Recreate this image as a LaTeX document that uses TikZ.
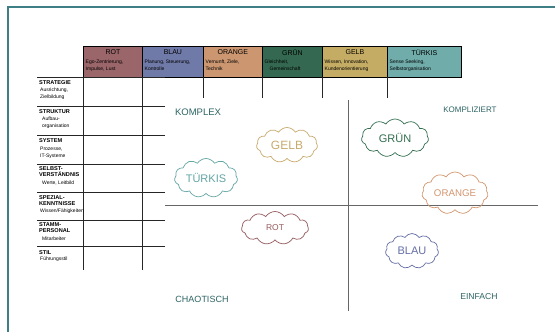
\documentclass[tikz,border=0pt]{standalone}
\usepackage{fontspec}
\setmainfont{Liberation Sans}
\usetikzlibrary{shapes.symbols}

\definecolor{frameC}{RGB}{62,127,134}
\definecolor{quadC}{RGB}{45,100,100}
\definecolor{fRot}{RGB}{155,102,106}
\definecolor{fBlau}{RGB}{112,122,168}
\definecolor{fOrange}{RGB}{203,150,112}
\definecolor{fGruen}{RGB}{52,104,80}
\definecolor{fGelb}{RGB}{197,172,100}
\definecolor{fTuerkis}{RGB}{112,172,170}
\definecolor{cRot}{RGB}{150,90,95}
\definecolor{cBlau}{RGB}{100,110,165}
\definecolor{cOrange}{RGB}{210,150,110}
\definecolor{cGruen}{RGB}{50,110,80}
\definecolor{cGelb}{RGB}{200,170,110}
\definecolor{cTuerkis}{RGB}{100,165,165}

\begin{document}
\begin{tikzpicture}[x=1pt,y=-1pt,
  hcell/.style={draw=black, line width=0.8pt, minimum height=31pt, inner sep=0pt, anchor=north west},
  htitle/.style={font=\fontsize{7}{8}\selectfont, anchor=north, inner sep=0pt},
  hsub/.style={font=\fontsize{5}{6.8}\selectfont, anchor=north west, align=left, inner sep=0pt},
  rtitle/.style={font=\fontsize{5.6}{6.6}\selectfont\bfseries, anchor=north west, align=left, inner sep=0pt},
  rsub/.style={font=\fontsize{5}{7}\selectfont, anchor=north west, align=left, inner sep=0pt},
  gridline/.style={draw=black!85, line width=0.7pt},
  axisline/.style={draw=black!60, line width=1pt},
  quad/.style={text=quadC, inner sep=0pt},
  wolke/.style={cloud, cloud puffs=11, cloud puff arc=115, cloud ignores aspect, line width=0.7pt, inner sep=0pt},
]
\useasboundingbox (0,0) rectangle (555,332);
\fill[white] (0,0) rectangle (555,332);

% frame
\draw[frameC, line width=2.2pt] (8,333) -- (8,7) -- (556,7);

% header cells
\foreach \n/\x/\w/\fc/\ttl/\sa/\sb in {
  rot/83/59/fRot/ROT/{Ego-Zentrierung,}/{Impulse, Lust},
  blau/142/61/fBlau/BLAU/{Planung, Steuerung,}/{Kontrolle},
  orange/203/59/fOrange/ORANGE/{Vernunft, Ziele,}/{Technik},
  gruen/262/60/fGruen/GRÜN/{Gleichheit,}/{\quad Gemeinschaft},
  gelb/322/65/fGelb/GELB/{Wissen, Innovation,}/{Kundenorientierung},
  tuerkis/387/74/fTuerkis/TÜRKIS/{Sense Seeking,}/{Selbstorganisation}}{
  \node[hcell, fill=\fc, minimum width=\w pt] (hd-\n) at (\x,46) {};
  \node[htitle] (ht-\n) at ([yshift=-3pt]hd-\n.north) {\ttl};
  \node[hsub] (hs-\n) at ([xshift=2.5pt,yshift=-14pt]hd-\n.north west) {\sa\\\sb};
}

% table grid
\draw[gridline] (37,77) -- (165,77);
\foreach \yy in {106,135,164,192,220,246}{
  \draw[gridline] (37,\yy) -- (165,\yy);
}
\draw[gridline] (83,77) -- (83,270);
\draw[gridline] (142,77) -- (142,270);
\foreach \xx in {203,262,322,387}{
  \draw[gridline] (\xx,77) -- (\xx,98);
}

% row labels
\node[rtitle] (rt1) at (39,80) {STRATEGIE};
\node[rsub]   (rs1) at (40,88) {Ausrichtung,\\Zielbildung};
\node[rtitle] (rt2) at (39,109) {STRUKTUR};
\node[rsub]   (rs2) at (42,117) {Aufbau-\\organisation};
\node[rtitle] (rt3) at (39,138) {SYSTEM};
\node[rsub]   (rs3) at (40,147) {Prozesse,\\IT-Systeme};
\node[rtitle] (rt4) at (39,166) {SELBST-\\VERSTÄNDNIS};
\node[rsub]   (rs4) at (42,181) {Werte, Leitbild};
\node[rtitle] (rt5) at (39,195) {SPEZIAL-\\KENNTNISSE};
\node[rsub]   (rs5) at (40,209) {Wissen/Fähigkeiten};
\node[rtitle] (rt6) at (39,222) {STAMM-\\PERSONAL};
\node[rsub]   (rs6) at (42,237) {Mitarbeiter};
\node[rtitle] (rt7) at (39,250) {STIL};
\node[rsub]   (rs7) at (40,257) {Führungsstil};

% matrix axes
\coordinate (hL) at (165,205);
\coordinate (hR) at (538,205);
\coordinate (vT) at (348,100);
\coordinate (vB) at (348,311);
\draw[axisline] (hL) -- (hR);
\draw[axisline] (vT) -- (vB);

% quadrant labels
\node[quad, font=\fontsize{9.5}{10}\selectfont] (komplex) at (198,112) {KOMPLEX};
\node[quad, font=\fontsize{8}{9}\selectfont] (kompliziert) at (470,110) {KOMPLIZIERT};
\node[quad, font=\fontsize{9}{10}\selectfont] (chaotisch) at (202,299) {CHAOTISCH};
\node[quad, font=\fontsize{8.6}{9}\selectfont] (einfach) at (479,297) {EINFACH};

% clouds
\node[wolke, draw=cGelb, text=cGelb, minimum width=61pt, minimum height=35pt, font=\fontsize{12}{12}\selectfont] (wGelb) at (287,145) {GELB};
\node[wolke, draw=cTuerkis, text=cTuerkis, minimum width=63pt, minimum height=39pt, font=\fontsize{11}{11}\selectfont] (wTuerkis) at (206,178) {TÜRKIS};
\node[wolke, draw=cGruen, text=cGruen, minimum width=67pt, minimum height=38pt, font=\fontsize{11}{11}\selectfont] (wGruen) at (395,138) {GRÜN};
\node[wolke, draw=cOrange, text=cOrange, minimum width=66pt, minimum height=42pt, font=\fontsize{9.7}{10}\selectfont] (wOrange) at (455,193) {ORANGE};
\node[wolke, draw=cRot, text=cRot, minimum width=67pt, minimum height=33pt, font=\fontsize{8.5}{9}\selectfont] (wRot) at (275,228) {ROT};
\node[wolke, draw=cBlau, text=cBlau, minimum width=53pt, minimum height=35pt, font=\fontsize{11}{11}\selectfont] (wBlau) at (412,251) {BLAU};
\end{tikzpicture}
\end{document}
